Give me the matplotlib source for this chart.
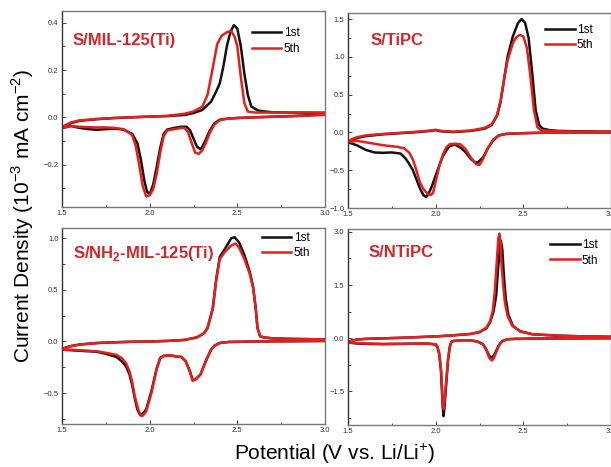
import matplotlib
matplotlib.use("Agg")
import matplotlib.pyplot as plt
from matplotlib.ticker import MultipleLocator

plt.rcParams['font.family'] = ['Liberation Sans', 'DejaVu Sans']
plt.rcParams['mathtext.fontset'] = 'custom'
plt.rcParams['mathtext.rm'] = 'Liberation Sans'
plt.rcParams['mathtext.bf'] = 'Liberation Sans:bold'

BLACK = '#111111'
RED = '#e3201e'
TITLE_RED = '#d3262a'

# ---------------- S/MIL-125(Ti) ----------------
mil_1st_cath_v = [3.0, 2.8, 2.6, 2.5, 2.45, 2.4, 2.37, 2.34, 2.32, 2.3, 2.29, 2.27, 2.25, 2.23, 2.21, 2.18,
                  2.14, 2.1, 2.08, 2.06, 2.04, 2.02, 2.0, 1.985, 1.97, 1.95, 1.93, 1.9, 1.85, 1.8, 1.75,
                  1.7, 1.65, 1.6, 1.55, 1.5]
mil_1st_cath_j = [0.012, 0.005, 0.0, -0.003, -0.005, -0.01, -0.025, -0.06, -0.095, -0.125, -0.135, -0.125,
                  -0.09, -0.055, -0.04, -0.04, -0.045, -0.052, -0.07, -0.13, -0.21, -0.285, -0.325, -0.315,
                  -0.27, -0.18, -0.11, -0.07, -0.052, -0.048, -0.05, -0.053, -0.05, -0.045, -0.037, -0.046]
mil_1st_an_v = [1.5, 1.52, 1.55, 1.6, 1.7, 1.8, 1.9, 2.0, 2.1, 2.2, 2.25, 2.3, 2.35, 2.38, 2.4, 2.42,
                2.44, 2.46, 2.48, 2.5, 2.52, 2.54, 2.56, 2.58, 2.62, 2.7, 2.8, 3.0]
mil_1st_an_j = [-0.046, -0.035, -0.025, -0.015, -0.008, -0.003, 0.0, 0.003, 0.005, 0.01, 0.018, 0.031,
                0.066, 0.11, 0.144, 0.214, 0.3, 0.36, 0.39, 0.376, 0.3, 0.186, 0.094, 0.045, 0.028, 0.021,
                0.02, 0.018]
mil_5th_cath_v = [3.0, 2.8, 2.6, 2.5, 2.45, 2.4, 2.37, 2.34, 2.32, 2.3, 2.28, 2.26, 2.24, 2.22, 2.2, 2.18,
                  2.14, 2.1, 2.08, 2.06, 2.04, 2.02, 2.0, 1.98, 1.96, 1.94, 1.92, 1.9, 1.85, 1.8, 1.75,
                  1.7, 1.65, 1.6, 1.55, 1.5]
mil_5th_cath_j = [0.01, 0.004, 0.0, -0.003, -0.005, -0.012, -0.03, -0.07, -0.11, -0.14, -0.155, -0.15,
                  -0.11, -0.065, -0.045, -0.045, -0.05, -0.056, -0.08, -0.15, -0.24, -0.305, -0.33, -0.335,
                  -0.29, -0.2, -0.12, -0.075, -0.05, -0.045, -0.043, -0.043, -0.042, -0.04, -0.037, -0.045]
mil_5th_an_v = [1.5, 1.52, 1.55, 1.6, 1.7, 1.8, 1.9, 2.0, 2.1, 2.2, 2.25, 2.3, 2.33, 2.36, 2.385, 2.41,
                2.44, 2.465, 2.485, 2.5, 2.52, 2.54, 2.56, 2.6, 2.8, 3.0]
mil_5th_an_j = [-0.045, -0.033, -0.022, -0.013, -0.007, -0.003, 0.0, 0.003, 0.006, 0.015, 0.025, 0.045,
                0.095, 0.21, 0.31, 0.345, 0.36, 0.366, 0.34, 0.3, 0.17, 0.06, 0.024, 0.02, 0.02, 0.02]

# ---------------- S/TiPC ----------------
tipc_1st_cath_v = [3.0, 2.8, 2.6, 2.5, 2.45, 2.4, 2.36, 2.33, 2.3, 2.27, 2.24, 2.22, 2.2, 2.17, 2.14, 2.11,
                   2.08, 2.06, 2.04, 2.02, 2.0, 1.98, 1.96, 1.945, 1.93, 1.91, 1.89, 1.87, 1.85, 1.83,
                   1.8, 1.75, 1.7, 1.65, 1.6, 1.55, 1.5]
tipc_1st_cath_j = [0.0, 0.0, -0.005, -0.01, -0.015, -0.02, -0.04, -0.1, -0.2, -0.33, -0.4, -0.39, -0.35,
                   -0.26, -0.2, -0.16, -0.18, -0.24, -0.32, -0.44, -0.57, -0.7, -0.81, -0.855, -0.83,
                   -0.74, -0.62, -0.5, -0.42, -0.35, -0.28, -0.265, -0.27, -0.265, -0.23, -0.17, -0.13]
tipc_1st_an_v = [1.5, 1.52, 1.55, 1.6, 1.7, 1.8, 1.9, 1.97, 2.0, 2.03, 2.1, 2.2, 2.28, 2.32, 2.35, 2.37,
                 2.39, 2.41, 2.44, 2.47, 2.49, 2.51, 2.53, 2.55, 2.57, 2.59, 2.61, 2.65, 2.7, 2.8, 3.0]
tipc_1st_an_j = [-0.13, -0.1, -0.075, -0.05, -0.025, -0.01, 0.005, 0.02, 0.03, 0.015, 0.005, 0.02, 0.05,
                 0.1, 0.22, 0.4, 0.7, 1.0, 1.27, 1.45, 1.5, 1.45, 1.25, 0.8, 0.3, 0.1, 0.05, 0.03, 0.02,
                 0.015, 0.01]
tipc_5th_cath_v = [3.0, 2.8, 2.6, 2.5, 2.45, 2.4, 2.36, 2.33, 2.3, 2.27, 2.25, 2.23, 2.2, 2.17, 2.14, 2.11,
                   2.08, 2.06, 2.04, 2.02, 2.0, 1.985, 1.97, 1.95, 1.93, 1.91, 1.89, 1.87, 1.85, 1.82,
                   1.78, 1.7, 1.65, 1.6, 1.55, 1.5]
tipc_5th_cath_j = [0.0, 0.0, -0.005, -0.01, -0.015, -0.02, -0.04, -0.09, -0.2, -0.35, -0.43, -0.42, -0.33,
                   -0.22, -0.155, -0.15, -0.155, -0.2, -0.3, -0.45, -0.65, -0.8, -0.83, -0.8, -0.75,
                   -0.66, -0.5, -0.36, -0.27, -0.21, -0.19, -0.17, -0.15, -0.13, -0.11, -0.13]
tipc_5th_an_v = [1.5, 1.52, 1.55, 1.6, 1.7, 1.8, 1.9, 1.97, 2.0, 2.03, 2.1, 2.2, 2.28, 2.32, 2.35, 2.37,
                 2.39, 2.41, 2.44, 2.46, 2.48, 2.5, 2.52, 2.54, 2.56, 2.58, 2.6, 2.65, 2.7, 2.8, 3.0]
tipc_5th_an_j = [-0.13, -0.09, -0.065, -0.04, -0.02, -0.005, 0.01, 0.025, 0.035, 0.02, 0.01, 0.025, 0.06,
                 0.11, 0.23, 0.42, 0.7, 0.95, 1.18, 1.26, 1.29, 1.27, 1.12, 0.75, 0.3, 0.07, 0.03, 0.02,
                 0.015, 0.01, 0.01]

# ---------------- S/NH2-MIL-125(Ti) ----------------
nh2_1st_cath_v = [3.0, 2.6, 2.45, 2.4, 2.37, 2.35, 2.32, 2.29, 2.26, 2.245, 2.23, 2.205, 2.18, 2.15,
                  2.12, 2.08, 2.06, 2.04, 2.01, 1.98, 1.96, 1.945, 1.93, 1.915, 1.9, 1.885, 1.865, 1.84,
                  1.81, 1.75, 1.7, 1.6, 1.55, 1.5]
nh2_1st_cath_j = [0.005, 0.0, -0.005, -0.015, -0.04, -0.08, -0.19, -0.32, -0.37, -0.375, -0.29, -0.19,
                  -0.15, -0.145, -0.135, -0.14, -0.16, -0.26, -0.48, -0.66, -0.7, -0.71, -0.66, -0.55,
                  -0.42, -0.32, -0.24, -0.19, -0.15, -0.12, -0.1, -0.09, -0.085, -0.08]
nh2_1st_an_v = [1.5, 1.52, 1.55, 1.6, 1.7, 1.8, 1.9, 2.0, 2.1, 2.2, 2.27, 2.31, 2.33, 2.36, 2.38, 2.4,
                2.43, 2.465, 2.485, 2.51, 2.54, 2.57, 2.59, 2.605, 2.615, 2.63, 2.65, 2.7, 2.8, 3.0]
nh2_1st_an_j = [-0.08, -0.06, -0.045, -0.03, -0.015, -0.008, -0.003, 0.0, 0.005, 0.015, 0.04, 0.08,
                0.13, 0.32, 0.61, 0.82, 0.9, 1.0, 1.01, 0.96, 0.84, 0.68, 0.53, 0.32, 0.13, 0.05, 0.04,
                0.03, 0.025, 0.02]
nh2_5th_cath_v = [3.0, 2.6, 2.45, 2.4, 2.37, 2.35, 2.32, 2.29, 2.26, 2.245, 2.23, 2.205, 2.18, 2.15,
                  2.12, 2.08, 2.06, 2.04, 2.01, 1.98, 1.96, 1.95, 1.935, 1.915, 1.9, 1.885, 1.865, 1.84,
                  1.81, 1.75, 1.7, 1.6, 1.55, 1.5]
nh2_5th_cath_j = [0.005, 0.0, -0.005, -0.015, -0.04, -0.08, -0.19, -0.32, -0.37, -0.38, -0.3, -0.19,
                  -0.15, -0.145, -0.135, -0.14, -0.16, -0.27, -0.5, -0.68, -0.72, -0.72, -0.66, -0.53,
                  -0.39, -0.29, -0.21, -0.16, -0.13, -0.11, -0.095, -0.085, -0.08, -0.08]
nh2_5th_an_v = [1.5, 1.52, 1.55, 1.6, 1.7, 1.8, 1.9, 2.0, 2.1, 2.2, 2.27, 2.31, 2.33, 2.36, 2.38, 2.4,
                2.43, 2.465, 2.49, 2.51, 2.54, 2.57, 2.59, 2.605, 2.615, 2.63, 2.65, 2.7, 2.8, 3.0]
nh2_5th_an_j = [-0.08, -0.06, -0.045, -0.03, -0.015, -0.008, -0.003, 0.0, 0.005, 0.015, 0.04, 0.08,
                0.13, 0.32, 0.6, 0.8, 0.87, 0.93, 0.95, 0.91, 0.8, 0.66, 0.52, 0.32, 0.13, 0.05, 0.04,
                0.03, 0.025, 0.02]

# ---------------- S/NTiPC ----------------
ntipc_1st_cath_v = [3.0, 2.6, 2.45, 2.41, 2.38, 2.36, 2.345, 2.33, 2.32, 2.305, 2.29, 2.27, 2.24, 2.2,
                    2.15, 2.1, 2.09, 2.08, 2.07, 2.06, 2.05, 2.045, 2.04, 2.035, 2.03, 2.02, 2.01, 2.0,
                    1.95, 1.8, 1.7, 1.6, 1.55, 1.5]
ntipc_1st_cath_j = [0.0, -0.01, -0.02, -0.03, -0.08, -0.2, -0.36, -0.5, -0.55, -0.5, -0.33, -0.17,
                    -0.1, -0.06, -0.06, -0.08, -0.1, -0.25, -0.65, -1.3, -1.95, -2.2, -1.95, -1.4, -0.9,
                    -0.45, -0.25, -0.18, -0.15, -0.16, -0.17, -0.16, -0.15, -0.12]
ntipc_1st_an_v = [1.5, 1.52, 1.55, 1.6, 1.8, 2.0, 2.1, 2.2, 2.25, 2.29, 2.31, 2.33, 2.345, 2.355, 2.365,
                  2.372, 2.38, 2.39, 2.4, 2.415, 2.44, 2.48, 2.55, 2.7, 2.85, 3.0]
ntipc_1st_an_j = [-0.12, -0.07, -0.04, -0.02, 0.01, 0.05, 0.08, 0.12, 0.17, 0.28, 0.45, 0.75, 1.2, 1.9,
                  2.5, 2.75, 2.5, 1.7, 1.1, 0.65, 0.35, 0.2, 0.11, 0.07, 0.05, 0.04]
ntipc_5th_cath_v = [3.0, 2.6, 2.45, 2.41, 2.38, 2.36, 2.345, 2.33, 2.32, 2.305, 2.29, 2.27, 2.24, 2.2,
                    2.15, 2.1, 2.09, 2.08, 2.07, 2.06, 2.05, 2.045, 2.04, 2.035, 2.03, 2.02, 2.01, 2.0,
                    1.95, 1.8, 1.7, 1.6, 1.55, 1.5]
ntipc_5th_cath_j = [0.0, -0.01, -0.02, -0.03, -0.08, -0.22, -0.4, -0.58, -0.63, -0.55, -0.35, -0.18,
                    -0.1, -0.06, -0.06, -0.08, -0.1, -0.25, -0.62, -1.2, -1.8, -2.0, -1.8, -1.3, -0.85,
                    -0.42, -0.24, -0.17, -0.15, -0.16, -0.16, -0.15, -0.14, -0.12]
ntipc_5th_an_v = [1.5, 1.52, 1.55, 1.6, 1.8, 2.0, 2.1, 2.2, 2.25, 2.29, 2.31, 2.325, 2.337, 2.347, 2.357,
                  2.363, 2.37, 2.376, 2.385, 2.395, 2.41, 2.437, 2.485, 2.56, 2.7, 2.85, 3.0]
ntipc_5th_an_j = [-0.12, -0.07, -0.04, -0.02, 0.01, 0.05, 0.08, 0.12, 0.18, 0.3, 0.48, 0.75, 1.3, 2.05,
                  2.8, 2.95, 2.7, 2.05, 1.5, 1.0, 0.63, 0.35, 0.18, 0.11, 0.07, 0.05, 0.04]

panels = [
    dict(title='S/MIL-125(Ti)', pos=[0.1015, 0.5567, 0.4304, 0.4197], ylim=(-0.38, 0.45), major=0.2,
         text_xy=(0.04, 0.85), leg_xy=(0.722, 0.918),
         c1=(mil_1st_cath_v, mil_1st_cath_j, mil_1st_an_v, mil_1st_an_j),
         c5=(mil_5th_cath_v, mil_5th_cath_j, mil_5th_an_v, mil_5th_an_j)),
    dict(title='S/TiPC', pos=[0.5696, 0.5546, 0.4304, 0.4176], ylim=(-1.0, 1.58), major=0.5,
         text_xy=(0.084, 0.86), leg_xy=(0.749, 0.944),
         c1=(tipc_1st_cath_v, tipc_1st_cath_j, tipc_1st_an_v, tipc_1st_an_j),
         c5=(tipc_5th_cath_v, tipc_5th_cath_j, tipc_5th_an_v, tipc_5th_an_j)),
    dict(title=r'S/NH$_\mathbf{2}$-MIL-125(Ti)', pos=[0.1015, 0.0921, 0.4304, 0.4197], ylim=(-0.8, 1.1),
         major=0.5, text_xy=(0.04, 0.87), leg_xy=(0.76, 0.98),
         c1=(nh2_1st_cath_v, nh2_1st_cath_j, nh2_1st_an_v, nh2_1st_an_j),
         c5=(nh2_5th_cath_v, nh2_5th_cath_j, nh2_5th_an_v, nh2_5th_an_j)),
    dict(title='S/NTiPC', pos=[0.5696, 0.0899, 0.4304, 0.4197], ylim=(-2.45, 3.08), major=1.5,
         text_xy=(0.077, 0.88), leg_xy=(0.768, 0.949),
         c1=(ntipc_1st_cath_v, ntipc_1st_cath_j, ntipc_1st_an_v, ntipc_1st_an_j),
         c5=(ntipc_5th_cath_v, ntipc_5th_cath_j, ntipc_5th_an_v, ntipc_5th_an_j)),
]

fig = plt.figure(figsize=(6.11, 4.67), dpi=100)

for p in panels:
    ax = fig.add_axes(p['pos'])
    cv, cj, av, aj = p['c1']
    ax.plot(cv + av, cj + aj, color=BLACK, lw=1.8, label='1st', solid_joinstyle='round')
    cv, cj, av, aj = p['c5']
    ax.plot(cv + av, cj + aj, color=RED, lw=1.8, label='5th', solid_joinstyle='round')
    ax.set_xlim(1.5, 3.0)
    ax.set_ylim(*p['ylim'])
    ax.xaxis.set_major_locator(MultipleLocator(0.5))
    ax.xaxis.set_minor_locator(MultipleLocator(0.25))
    ax.yaxis.set_major_locator(MultipleLocator(p['major']))
    ax.yaxis.set_minor_locator(MultipleLocator(p['major'] / 2))
    ax.tick_params(which='both', direction='in', labelsize=5.5, labelcolor='#333333',
                   color='#444444', width=0.7, pad=2.5)
    ax.tick_params(which='major', length=3)
    ax.tick_params(which='minor', length=1.8)
    for side in ['top', 'right', 'bottom']:
        ax.spines[side].set_color('#777777')
        ax.spines[side].set_linewidth(1.0)
    ax.spines['left'].set_color('#333333')
    ax.spines['left'].set_linewidth(1.0)
    ax.text(p['text_xy'][0], p['text_xy'][1], p['title'], transform=ax.transAxes,
            fontsize=12, fontweight='bold', color=TITLE_RED, ha='left', va='center')
    ax.legend(loc='upper left', bbox_to_anchor=p['leg_xy'], frameon=False, fontsize=8.5,
              handlelength=2.5, handletextpad=0.2, labelspacing=0.3, borderpad=0,
              borderaxespad=0)

fig.text(0.037, 0.537, r'Current Density (10$^{-3}$ mA cm$^{-2}$)', rotation=90,
         ha='center', va='center', fontsize=15)
fig.text(0.5475, 0.028, r'Potential (V vs. Li/Li$^{+}$)', ha='center', va='center', fontsize=15)

fig.savefig('out.png', dpi=100)
